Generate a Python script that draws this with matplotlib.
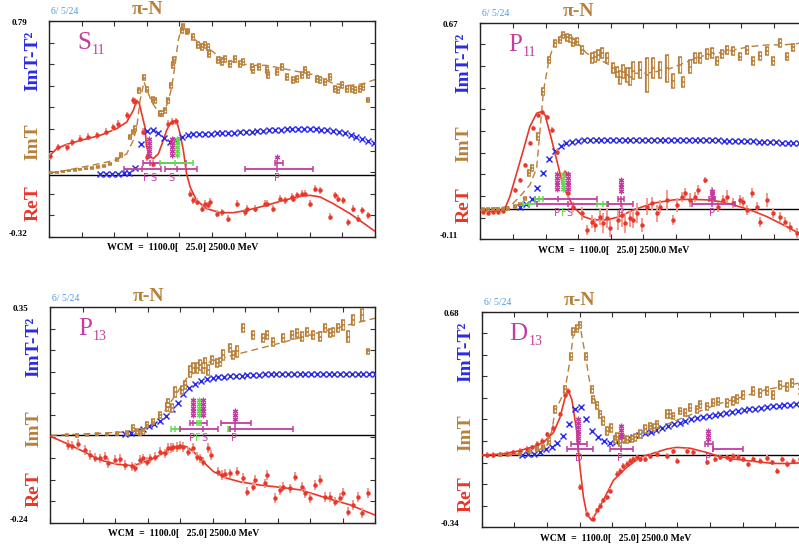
import numpy as np
import matplotlib
matplotlib.use("Agg")
import matplotlib.pyplot as plt

plt.rcParams['font.family'] = ['Liberation Serif', 'DejaVu Serif']

# ------------------------------------------------------------------ data
W_MIN, W_MAX, W_STEP = 1100.0, 2500.0, 25.0
DATE = "6/ 5/24"
WCM_TEXT = "WCM  =  1100.0[   25.0] 2500.0 MeV"

# ---- S11
S11_ylim = (-0.32, 0.79)
S11_fit_W = [1100, 1133, 1176, 1247, 1319, 1391, 1434, 1462, 1477, 1488, 1498, 1512, 1519, 1534, 1548, 1570,
             1591, 1605, 1620, 1634, 1648, 1663, 1677, 1691, 1706, 1734, 1777, 1834, 1892, 1949, 2035, 2106,
             2178, 2221, 2264, 2321, 2393, 2464, 2500]
S11_re_fit = [0.095, 0.134, 0.156, 0.180, 0.202, 0.237, 0.271, 0.331, 0.382, 0.365, 0.314, 0.245, 0.143, 0.091,
              0.083, 0.108, 0.177, 0.228, 0.262, 0.276, 0.276, 0.211, 0.125, 0.005, -0.063, -0.132, -0.174,
              -0.195, -0.195, -0.183, -0.157, -0.132, -0.111, -0.106, -0.114, -0.149, -0.200, -0.260, -0.291]
S11_im_W = [1100, 1176, 1247, 1319, 1391, 1434, 1462, 1477, 1491, 1508, 1519, 1541, 1570, 1591, 1612, 1627,
            1641, 1655, 1670, 1680, 1691, 1720, 1777, 1834, 1892, 1963, 2035, 2106, 2178, 2249, 2321, 2393,
            2450, 2500]
S11_im_fit = [0.009, 0.023, 0.040, 0.057, 0.077, 0.108, 0.177, 0.245, 0.382, 0.477, 0.442, 0.374, 0.322, 0.322,
              0.374, 0.451, 0.562, 0.691, 0.759, 0.773, 0.733, 0.699, 0.656, 0.605, 0.579, 0.562, 0.562, 0.545,
              0.528, 0.511, 0.468, 0.459, 0.468, 0.489]
S11_imd_W = [1110, 1135, 1160, 1185, 1210, 1235, 1260, 1285, 1310, 1335, 1360, 1390, 1410, 1448, 1459, 1469,
             1488, 1508, 1519, 1545, 1555, 1577, 1587, 1598, 1612, 1622, 1634, 1638, 1670, 1677, 1691, 1698,
             1720, 1741, 1756, 1770, 1784, 1789, 1827, 1842, 1856, 1877, 1899, 1920, 1935, 1970, 1978, 2000,
             2035, 2042, 2078, 2099, 2121, 2149, 2164, 2185, 2199, 2214, 2249, 2264, 2285, 2307, 2328, 2343,
             2357, 2378, 2400, 2414, 2436, 2450, 2471]
S11_imd_v = [0.010, 0.012, 0.016, 0.020, 0.023, 0.027, 0.031, 0.036, 0.040, 0.046, 0.055, 0.080, 0.100, 0.194,
             0.220, 0.237,
             0.434, 0.499, 0.437, 0.386, 0.382, 0.314, 0.314, 0.331, 0.382, 0.459, 0.562, 0.588, 0.742, 0.763,
             0.733, 0.739, 0.708, 0.665, 0.656, 0.665, 0.656, 0.622, 0.588, 0.579, 0.596, 0.571, 0.596, 0.571,
             0.579, 0.554, 0.537, 0.554, 0.537, 0.511, 0.528, 0.554, 0.502, 0.485, 0.494, 0.511, 0.537, 0.511,
             0.494, 0.485, 0.477, 0.502, 0.442, 0.434, 0.459, 0.442, 0.442, 0.434, 0.442, 0.451, 0.382]
S11_imd_e = [0.003, 0.003, 0.003, 0.003, 0.003, 0.003, 0.004, 0.004, 0.004, 0.005, 0.005, 0.008, 0.010, 0.012,
             0.012, 0.012,
             0.012, 0.012, 0.012, 0.012, 0.012, 0.012, 0.012, 0.012, 0.012, 0.012, 0.015, 0.015, 0.012, 0.012,
             0.012, 0.012, 0.015, 0.015, 0.015, 0.015, 0.015, 0.015, 0.015, 0.015, 0.015, 0.015, 0.015, 0.015,
             0.015, 0.015, 0.015, 0.015, 0.015, 0.015, 0.015, 0.015, 0.015, 0.015, 0.015, 0.015, 0.015, 0.015,
             0.015, 0.015, 0.015, 0.015, 0.015, 0.015, 0.015, 0.015, 0.015, 0.015, 0.015, 0.015, 0.010]
S11_red_W = [1104, 1140, 1176, 1197, 1233, 1269, 1305, 1345, 1376, 1398, 1434, 1459, 1469, 1505, 1519, 1527,
             1548, 1612, 1627, 1645, 1705, 1720, 1734, 1756, 1770, 1784, 1791, 1820, 1842, 1870, 1906, 1942,
             1949, 1985, 2028, 2035, 2063, 2092, 2113, 2142, 2149, 2164, 2185, 2199, 2221, 2242, 2264, 2307,
             2328, 2343, 2364, 2385, 2407, 2428, 2443, 2471]
S11_red_v = [0.095, 0.142, 0.142, 0.168, 0.185, 0.194, 0.202, 0.220, 0.245, 0.262, 0.305, 0.382, 0.374, 0.220,
             0.091, 0.100, 0.057, 0.262, 0.271, 0.276, -0.097, -0.132, -0.140, -0.174, -0.149, -0.157, -0.140,
             -0.200, -0.192, -0.226, -0.149, -0.192, -0.174, -0.174, -0.149, -0.149, -0.174, -0.123, -0.132,
             -0.114, -0.123, -0.106, -0.097, -0.097, -0.149, -0.072, -0.080, -0.217, -0.106, -0.123, -0.132,
             -0.243, -0.174, -0.226, -0.183, -0.209]
S11_red_e = 0.018
S11_blue_W0 = 1320
S11_blue_v = [0.005, 0.005, 0.005, 0.006, 0.008, 0.010, 0.035, 0.156, 0.225, 0.228, 0.212, 0.188, 0.168, 0.177,
              0.194, 0.206, 0.208, 0.209, 0.210, 0.211, 0.212, 0.213, 0.214, 0.216, 0.218, 0.220, 0.222, 0.224,
              0.226, 0.228, 0.230, 0.232, 0.234, 0.236, 0.237, 0.237, 0.236, 0.234, 0.231, 0.228, 0.224, 0.219,
              0.212, 0.205, 0.196, 0.186, 0.175, 0.163]
S11_star_W = [1531, 1627, 1650, 2081]
S11_star_n = [5, 5, 5, 1]
S11_star_top = [0.182, 0.182, 0.182, 0.091]
S11_star_col = ['m', 'm', 'g', 'm']
S11_bar_lo = [1505, 1577, 1420, 1600, 2071, 1942]
S11_bar_hi = [1690, 1718, 1580, 1736, 2106, 2235]
S11_bar_c = [1534, 1640, 1500, 1650, 2081, 2081]
S11_bar_v = [0.060, 0.060, 0.028, 0.028, 0.060, 0.028]
S11_bar_col = ['m', 'g', 'm', 'm', 'm', 'm']
S11_lab_W = [1516, 1547, 1627, 1654, 2081]
S11_lab_t = ['F', 'S', 'S', "'", 'P']
S11_lab_col = ['m', 'm', 'm', 'g', 'm']
S11_lab_v = -0.018

# ---- P11
P11_ylim = (-0.11, 0.67)
P11_fit_W = [1100, 1142, 1185, 1206, 1227, 1256, 1285, 1313, 1342, 1363, 1378, 1399, 1428, 1456, 1499, 1542,
             1585, 1643, 1700, 1757, 1843, 1929, 2000, 2072, 2129, 2187, 2258, 2330, 2401, 2468, 2500]
P11_re_fit = [-0.004, -0.010, -0.007, 0.001, 0.044, 0.128, 0.212, 0.296, 0.344, 0.350, 0.338, 0.272, 0.176,
              0.080, 0.008, -0.028, -0.040, -0.040, -0.028, -0.004, 0.020, 0.032, 0.034, 0.032, 0.026, 0.014,
              -0.004, -0.028, -0.058, -0.088, -0.100]
P11_im_W = [1100, 1227, 1270, 1313, 1342, 1371, 1395, 1413, 1428, 1456, 1485, 1513, 1556, 1599, 1642, 1685,
            1757, 1814, 1900, 1972, 2043, 2115, 2187, 2258, 2330, 2401, 2500]
P11_im_fit = [-0.002, 0.008, 0.044, 0.086, 0.146, 0.422, 0.536, 0.584, 0.602, 0.632, 0.626, 0.602, 0.560, 0.542,
              0.524, 0.500, 0.488, 0.488, 0.500, 0.524, 0.548, 0.560, 0.572, 0.584, 0.590, 0.590, 0.598]
P11_imd_W = [1113, 1134, 1156, 1177, 1199, 1220, 1249, 1270, 1292, 1309, 1320, 1349, 1371, 1395, 1421, 1442,
             1456, 1471, 1485, 1499, 1514, 1535, 1578, 1592, 1607, 1621, 1643, 1671, 1685, 1700, 1714, 1728,
             1743, 1757, 1786, 1814, 1843, 1872, 1900, 1929, 1957, 1972, 2000, 2022, 2043, 2072, 2093, 2115,
             2136, 2158, 2187, 2215, 2244, 2272, 2301, 2330, 2358, 2387, 2416, 2444]
P11_imd_v = [-0.002, -0.002, -0.002, -0.002, -0.001, 0.000, 0.008, 0.017, 0.038, 0.128, 0.146,
             0.260, 0.422, 0.536, 0.596, 0.608, 0.626, 0.617, 0.614, 0.598, 0.602, 0.572, 0.542, 0.548, 0.554,
             0.560, 0.542, 0.506, 0.494, 0.473, 0.494, 0.482, 0.476, 0.497, 0.500, 0.482, 0.506, 0.500, 0.506,
             0.460, 0.518, 0.458, 0.512, 0.542, 0.542, 0.557, 0.562, 0.533, 0.557, 0.572, 0.569, 0.548, 0.572,
             0.533, 0.550, 0.569, 0.533, 0.596, 0.548, 0.581]
P11_imd_e = [0.004, 0.004, 0.004, 0.004, 0.004, 0.004, 0.004, 0.005, 0.006, 0.010, 0.010,
             0.012, 0.012, 0.012, 0.012, 0.012, 0.012, 0.012, 0.012, 0.012, 0.012, 0.014, 0.018, 0.018, 0.018,
             0.018, 0.018, 0.018, 0.018, 0.024, 0.024, 0.024, 0.030, 0.030, 0.030, 0.060, 0.036, 0.030, 0.048,
             0.024, 0.030, 0.018, 0.024, 0.018, 0.018, 0.018, 0.018, 0.014, 0.014, 0.014, 0.014, 0.014, 0.014,
             0.014, 0.014, 0.014, 0.014, 0.014, 0.014, 0.014]
P11_red_W = [1113, 1134, 1156, 1177, 1199, 1249, 1270, 1292, 1313, 1328, 1349, 1363, 1385, 1406, 1428, 1464,
             1478, 1499, 1535, 1557, 1578, 1592, 1614, 1628, 1643, 1657, 1683, 1693, 1707, 1721, 1743, 1757,
             1771, 1793, 1814, 1836, 1857, 1872, 1900, 1929, 1943, 1965, 1979, 2000, 2022, 2036, 2065, 2093,
             2101, 2122, 2144, 2158, 2187, 2215, 2229, 2244, 2265, 2287, 2301, 2330, 2358, 2387, 2408, 2430,
             2458]
P11_red_v = [-0.010, -0.014, -0.013, -0.013, -0.007, 0.068, 0.104, 0.158, 0.236, 0.290, 0.338, 0.350, 0.332,
             0.284, 0.206, 0.128, 0.056, 0.008, -0.016, -0.076, -0.046, -0.058, -0.028, -0.052, -0.034, -0.070,
             -0.130, -0.040, -0.022, -0.052, -0.034, -0.040, -0.016, -0.058, 0.008, 0.020, -0.016, 0.008, 0.032,
             -0.040, 0.014, 0.044, 0.056, 0.032, 0.044, 0.068, 0.104, 0.062, 0.038, 0.008, 0.032, 0.044, 0.020,
             0.032, 0.026, -0.004, 0.056, 0.008, -0.046, 0.032, -0.016, -0.028, -0.046, -0.064, -0.088]
P11_red_e = [0.005, 0.005, 0.005, 0.005, 0.005, 0.007, 0.007, 0.007, 0.007, 0.007, 0.007, 0.007, 0.007, 0.010,
             0.010, 0.012, 0.018, 0.018, 0.024, 0.018, 0.024, 0.024, 0.030, 0.036, 0.036, 0.030, 0.018, 0.036,
             0.042, 0.036, 0.030, 0.030, 0.036, 0.024, 0.030, 0.024, 0.030, 0.024, 0.036, 0.018, 0.024, 0.018,
             0.018, 0.024, 0.018, 0.018, 0.012, 0.018, 0.018, 0.018, 0.018, 0.024, 0.018, 0.018, 0.018, 0.018,
             0.018, 0.018, 0.018, 0.024, 0.018, 0.018, 0.018, 0.018, 0.018]
P11_blue_W0 = 1270
P11_blue_v = [0.005, 0.017, 0.034, 0.074, 0.130, 0.178, 0.209, 0.227, 0.238, 0.242, 0.245, 0.247,
              0.248, 0.248, 0.248, 0.248, 0.248, 0.248, 0.248, 0.248, 0.248, 0.248, 0.248, 0.248, 0.248, 0.248,
              0.248, 0.248, 0.248, 0.248,
              0.247, 0.247, 0.247, 0.246, 0.246, 0.245, 0.245, 0.244, 0.244, 0.243, 0.243, 0.242, 0.241, 0.240,
              0.239, 0.238, 0.237, 0.236, 0.235, 0.234]
P11_star_W = [1429, 1455, 1476, 1704, 2093]
P11_star_n = [5, 5, 5, 4, 2]
P11_star_top = [0.125, 0.125, 0.125, 0.104, 0.065]
P11_star_col = ['m', 'g', 'm', 'm', 'm']
P11_bar_lo = [1335, 1335, 1285, 1342, 1600, 1650, 1693, 2008, 2083]
P11_bar_hi = [1600, 1371, 1342, 1643, 1650, 1757, 1717, 2194, 2108]
P11_bar_c = [1435, 1350, 1310, 1476, 1625, 1704, 1704, 2093, 2093]
P11_bar_v = [0.034, 0.034, 0.017, 0.017, 0.017, 0.017, 0.034, 0.017, 0.034]
P11_bar_col = ['m', 'g', 'g', 'm', 'g', 'm', 'm', 'm', 'm']
P11_lab_W = [1430, 1457, 1484, 1704, 2093]
P11_lab_t = ['P', 'F', 'S', 'P', 'P']
P11_lab_col = ['m', 'g', 'm', 'm', 'm']
P11_lab_v = -0.016

# ---- P13
P13_ylim = (-0.24, 0.35)
P13_fit_W = [1100, 1172, 1244, 1315, 1387, 1459, 1531, 1574, 1617, 1660, 1689, 1717, 1760, 1804, 1861, 1918,
             2005, 2105, 2177, 2249, 2320, 2392, 2464, 2500]
P13_re_fit = [-0.003, -0.023, -0.045, -0.068, -0.080, -0.084, -0.068, -0.055, -0.036, -0.029, -0.032, -0.045,
              -0.073, -0.100, -0.118, -0.128, -0.137, -0.144, -0.150, -0.164, -0.178, -0.191, -0.210, -0.219]
P13_im_W = [1100, 1315, 1459, 1516, 1559, 1603, 1631, 1660, 1689, 1732, 1775, 1832, 1890, 1976, 2062, 2148,
            2249, 2320, 2392, 2500]
P13_im_fit = [-0.001, 0.005, 0.010, 0.019, 0.037, 0.073, 0.101, 0.128, 0.156, 0.178, 0.197, 0.210, 0.219, 0.233,
              0.247, 0.262, 0.279, 0.291, 0.303, 0.320]
P13_imd_W = [1172, 1215, 1258, 1301, 1344, 1387, 1430, 1459, 1473, 1488, 1502, 1516, 1545, 1574, 1603, 1610,
             1624, 1638, 1667, 1682, 1703, 1717, 1732, 1746, 1761, 1768, 1782, 1796, 1818, 1832, 1847, 1875,
             1890, 1904, 1933, 1976, 2019, 2033, 2062, 2105, 2141, 2163, 2184, 2206, 2234, 2263, 2285, 2306,
             2320, 2342, 2364, 2385, 2407, 2443, 2471]
P13_imd_v = [0.000, -0.001, 0.001, 0.002, 0.003, 0.004, 0.005, 0.019, 0.010, 0.005, 0.010, 0.028, 0.037, 0.055,
             0.078, 0.087, 0.073, 0.119, 0.124, 0.137, 0.174, 0.183, 0.183, 0.192, 0.183, 0.197, 0.178, 0.206,
             0.197, 0.201, 0.219, 0.238, 0.219, 0.229, 0.292, 0.274, 0.265, 0.274, 0.256, 0.265, 0.274, 0.279,
             0.270, 0.283, 0.274, 0.270, 0.292, 0.279, 0.283, 0.292, 0.302, 0.270, 0.315, 0.329, 0.229]
P13_imd_e = [0.003, 0.003, 0.003, 0.003, 0.003, 0.004, 0.005, 0.009, 0.007, 0.005, 0.007, 0.007, 0.007, 0.009,
             0.011, 0.011, 0.011, 0.014, 0.011, 0.011, 0.014, 0.014, 0.014, 0.014, 0.014, 0.014, 0.014, 0.011,
             0.011, 0.011, 0.014, 0.011, 0.011, 0.014, 0.011, 0.011, 0.011, 0.011, 0.011, 0.011, 0.011, 0.011,
             0.011, 0.011, 0.011, 0.011, 0.011, 0.011, 0.011, 0.011, 0.014, 0.014, 0.014, 0.016, 0.007]
P13_red_W = [1179, 1193, 1222, 1251, 1272, 1294, 1315, 1337, 1351, 1380, 1402, 1423, 1452, 1466, 1488, 1499,
             1516, 1531, 1552, 1574, 1595, 1610, 1620, 1631, 1646, 1660, 1674, 1696, 1715, 1732, 1746, 1761,
             1782, 1792, 1825, 1839, 1854, 1875, 1904, 1933, 1947, 1976, 1983, 2026, 2033, 2069, 2091, 2105,
             2134, 2155, 2184, 2198, 2220, 2242, 2263, 2285, 2306, 2328, 2349, 2364, 2385, 2407, 2428, 2443,
             2471]
P13_red_v = [-0.027, -0.029, -0.025, -0.041, -0.054, -0.062, -0.064, -0.059, -0.077, -0.068, -0.066, -0.082,
             -0.086, -0.089, -0.068, -0.064, -0.073, -0.064, -0.059, -0.045, -0.050, -0.036, -0.036, -0.034,
             -0.032, -0.029, -0.032, -0.045, -0.036, -0.059, -0.064, -0.073, -0.036, -0.054, -0.100, -0.109,
             -0.107, -0.105, -0.100, -0.118, -0.155, -0.141, -0.123, -0.132, -0.109, -0.173, -0.150, -0.141,
             -0.146, -0.114, -0.141, -0.159, -0.173, -0.137, -0.123, -0.169, -0.169, -0.182, -0.173, -0.159,
             -0.210, -0.191, -0.169, -0.214, -0.159]
P13_red_e = 0.013
P13_blue_W0 = 1425
P13_blue_v = [0.003, 0.007, 0.011, 0.016, 0.024, 0.030, 0.038, 0.053, 0.072, 0.089, 0.112, 0.128, 0.141, 0.148,
              0.153, 0.156, 0.158, 0.160, 0.161, 0.162, 0.163, 0.164, 0.165, 0.165, 0.166, 0.166, 0.167, 0.167,
              0.168, 0.168, 0.168, 0.168, 0.168, 0.168, 0.168, 0.168, 0.168, 0.168, 0.168, 0.168, 0.168, 0.167,
              0.167, 0.167]
P13_star_W = [1715, 1743, 1761, 1897]
P13_star_n = [5, 5, 5, 3]
P13_star_top = [0.096, 0.096, 0.096, 0.066]
P13_star_col = ['m', 'g', 'm', 'm']
P13_bar_lo = [1703, 1735, 1835, 1620, 1660, 1868, 1875]
P13_bar_hi = [1775, 1750, 1964, 1660, 1825, 1875, 2148]
P13_bar_c = [1715, 1743, 1897, 1640, 1761, 1870, 1897]
P13_bar_v = [0.034, 0.034, 0.034, 0.017, 0.017, 0.017, 0.017]
P13_bar_col = ['m', 'g', 'm', 'g', 'm', 'g', 'm']
P13_lab_W = [1711, 1738, 1765, 1894]
P13_lab_t = ['P', 'F', 'S', 'P']
P13_lab_col = ['m', 'g', 'm', 'm']
P13_lab_v = -0.009

# ---- D13
D13_ylim = (-0.34, 0.68)
D13_fit_W = [1100, 1179, 1250, 1322, 1365, 1408, 1436, 1458, 1472, 1487, 1508, 1522, 1537, 1551, 1572, 1594,
             1622, 1665, 1723, 1780, 1823, 1894, 1937, 1995, 2066, 2124, 2181, 2267, 2353, 2424, 2500]
D13_re_fit = [0.002, 0.006, 0.019, 0.041, 0.061, 0.108, 0.179, 0.273, 0.304, 0.265, 0.116, -0.056, -0.197,
              -0.276, -0.307, -0.268, -0.213, -0.119, -0.056, -0.009, 0.006, 0.030, 0.038, 0.034, 0.014, -0.006,
              -0.017, -0.028, -0.038, -0.038, -0.033]
D13_im_W = [1100, 1250, 1322, 1379, 1401, 1415, 1436, 1458, 1482, 1494, 1508, 1522, 1534, 1547, 1558, 1572,
            1594, 1622, 1651, 1680, 1723, 1780, 1837, 1894, 1966, 2038, 2109, 2181, 2252, 2324, 2396, 2500]
D13_im_fit = [0.002, 0.006, 0.014, 0.045, 0.116, 0.210, 0.257, 0.312, 0.468, 0.578, 0.602, 0.617, 0.539, 0.468,
              0.382, 0.304, 0.241, 0.163, 0.116, 0.085, 0.069, 0.085, 0.116, 0.147, 0.179, 0.210, 0.241, 0.265,
              0.288, 0.312, 0.327, 0.351]
D13_imd_W = [1179, 1222, 1265, 1308, 1336, 1365, 1391, 1415, 1458, 1482, 1494, 1508, 1522, 1547, 1572, 1580,
             1594, 1608, 1622, 1640, 1654, 1673, 1683, 1694, 1708, 1723, 1744, 1758, 1780, 1801, 1823, 1840,
             1852, 1894, 1909, 1923, 1952, 1973, 1995, 2023, 2038, 2066, 2095, 2116, 2152, 2181, 2195, 2224,
             2267, 2295, 2324, 2353, 2381, 2410, 2431, 2467, 2496]
D13_imd_v = [0.002, 0.003, 0.006, 0.019, 0.030, 0.038, 0.069, 0.218, 0.312, 0.468, 0.586, 0.599, 0.617, 0.468,
             0.312, 0.265, 0.238, 0.194, 0.163, 0.116, 0.128, 0.077, 0.088, 0.061, 0.081, 0.075, 0.078, 0.085,
             0.103, 0.124, 0.139, 0.132, 0.147, 0.197, 0.194, 0.186, 0.210, 0.202, 0.226, 0.218, 0.241, 0.233,
             0.249, 0.254, 0.249, 0.257, 0.269, 0.288, 0.304, 0.296, 0.307, 0.288, 0.335, 0.323, 0.343, 0.312,
             0.351]
D13_imd_e = [0.003, 0.003, 0.005, 0.006, 0.008, 0.009, 0.013, 0.016, 0.016, 0.016, 0.016, 0.016, 0.016, 0.016,
             0.016, 0.016, 0.016, 0.016, 0.019, 0.019, 0.019, 0.016, 0.016, 0.016, 0.016, 0.016, 0.016, 0.016,
             0.019, 0.019, 0.016, 0.016, 0.016, 0.019, 0.019, 0.016, 0.016, 0.016, 0.016, 0.016, 0.016, 0.016,
             0.016, 0.016, 0.019, 0.019, 0.019, 0.019, 0.019, 0.019, 0.019, 0.019, 0.019, 0.019, 0.019, 0.019,
             0.019]
D13_red_W = [1121, 1150, 1179, 1207, 1236, 1265, 1293, 1315, 1336, 1358, 1379, 1408, 1436, 1458, 1472, 1522,
             1551, 1580, 1594, 1608, 1622, 1637, 1651, 1680, 1694, 1708, 1723, 1737, 1751, 1766, 1780, 1801,
             1823, 1852, 1894, 1923, 1937, 1980, 2009, 2066, 2102, 2124, 2152, 2166, 2181, 2202, 2224, 2245,
             2267, 2295, 2324, 2345, 2367, 2388, 2410, 2438, 2467]
D13_red_v = [0.002, 0.003, 0.005, 0.009, 0.014, 0.022, 0.030, 0.038, 0.053, 0.069, 0.100, 0.132, 0.194, 0.288,
             0.304, -0.150, -0.276, -0.299, -0.260, -0.237, -0.213, -0.198, -0.166, -0.088, -0.072, -0.049,
             -0.041, -0.025, -0.017, -0.009, -0.017, -0.017, -0.002, 0.006, -0.002, 0.022, -0.025, 0.022, 0.014,
             -0.033, -0.017, -0.009, -0.009, -0.017, -0.002, -0.006, -0.017, -0.041, -0.017, -0.025, -0.013,
             -0.033, -0.072, -0.017, -0.041, -0.025, -0.017]
D13_red_e = 0.013
D13_blue_W0 = 1275
D13_blue_v = [0.002, 0.006, 0.009, 0.017, 0.030, 0.038, 0.061, 0.092, 0.147, 0.218, 0.229, 0.171, 0.116, 0.085,
              0.069, 0.061, 0.064, 0.072, 0.077, 0.085, 0.096, 0.105, 0.113, 0.121, 0.128, 0.139, 0.147, 0.155,
              0.163, 0.171, 0.179, 0.182, 0.186, 0.191, 0.197, 0.202, 0.207, 0.210, 0.213, 0.218, 0.221, 0.226,
              0.229, 0.232, 0.233, 0.237, 0.238, 0.241, 0.244, 0.246]
D13_star_W = [1515, 1698, 2073]
D13_star_n = [7, 4, 3]
D13_star_top = [0.171, 0.139, 0.116]
D13_star_col = ['m', 'm', 'm']
D13_bar_lo = [1482, 1465, 1651, 2059, 2095]
D13_bar_hi = [1554, 1577, 1751, 2095, 2224]
D13_bar_c = [1515, 1515, 1698, 2073, 2095]
D13_bar_v = [0.053, 0.030, 0.030, 0.053, 0.030]
D13_bar_col = ['m', 'm', 'm', 'm', 'm']
D13_lab_W = [1515, 1694, 2073]
D13_lab_t = ['D', 'P', 'P']
D13_lab_col = ['m', 'm', 'm']
D13_lab_v = -0.013

# ------------------------------------------------------------------ style
FW, FH = 799, 550
BROWN = '#b8803a'
BLUE = '#2b2be6'
RED = '#e8382a'
RED_L = '#f29a92'
MAG = '#c23d9f'
GRN = '#5fdc50'
DATE_C = '#4d9be6'
CMAP = {'m': MAG, 'g': GRN}

panels = [
    dict(name=('S', '11'), px=(49, 21, 326, 216), ylim=S11_ylim,
         fitW=S11_fit_W, re=S11_re_fit, imW=S11_im_W, im=S11_im_fit,
         imdW=S11_imd_W, imd=S11_imd_v, imde=S11_imd_e,
         redW=S11_red_W, red=S11_red_v, rede=S11_red_e, bW0=S11_blue_W0, blue=S11_blue_v,
         sW=S11_star_W, sn=S11_star_n, stop=S11_star_top, scol=S11_star_col,
         blo=S11_bar_lo, bhi=S11_bar_hi, bc=S11_bar_c, bv=S11_bar_v, bcol=S11_bar_col,
         lW=S11_lab_W, lt=S11_lab_t, lcol=S11_lab_col, lv=S11_lab_v),
    dict(name=('P', '11'), px=(480.3, 22.7, 326, 216.6), ylim=P11_ylim,
         fitW=P11_fit_W, re=P11_re_fit, imW=P11_im_W, im=P11_im_fit,
         imdW=P11_imd_W, imd=P11_imd_v, imde=P11_imd_e,
         redW=P11_red_W, red=P11_red_v, rede=P11_red_e, bW0=P11_blue_W0, blue=P11_blue_v,
         sW=P11_star_W, sn=P11_star_n, stop=P11_star_top, scol=P11_star_col,
         blo=P11_bar_lo, bhi=P11_bar_hi, bc=P11_bar_c, bv=P11_bar_v, bcol=P11_bar_col,
         lW=P11_lab_W, lt=P11_lab_t, lcol=P11_lab_col, lv=P11_lab_v),
    dict(name=('P', '13'), px=(50, 307.3, 325, 215.4), ylim=P13_ylim,
         fitW=P13_fit_W, re=P13_re_fit, imW=P13_im_W, im=P13_im_fit,
         imdW=P13_imd_W, imd=P13_imd_v, imde=P13_imd_e,
         redW=P13_red_W, red=P13_red_v, rede=P13_red_e, bW0=P13_blue_W0, blue=P13_blue_v,
         sW=P13_star_W, sn=P13_star_n, stop=P13_star_top, scol=P13_star_col,
         blo=P13_bar_lo, bhi=P13_bar_hi, bc=P13_bar_c, bv=P13_bar_v, bcol=P13_bar_col,
         lW=P13_lab_W, lt=P13_lab_t, lcol=P13_lab_col, lv=P13_lab_v),
    dict(name=('D', '13'), px=(481.7, 311.7, 326, 215.6), ylim=D13_ylim,
         fitW=D13_fit_W, re=D13_re_fit, imW=D13_im_W, im=D13_im_fit,
         imdW=D13_imd_W, imd=D13_imd_v, imde=D13_imd_e,
         redW=D13_red_W, red=D13_red_v, rede=D13_red_e, bW0=D13_blue_W0, blue=D13_blue_v,
         sW=D13_star_W, sn=D13_star_n, stop=D13_star_top, scol=D13_star_col,
         blo=D13_bar_lo, bhi=D13_bar_hi, bc=D13_bar_c, bv=D13_bar_v, bcol=D13_bar_col,
         lW=D13_lab_W, lt=D13_lab_t, lcol=D13_lab_col, lv=D13_lab_v),
]

fig = plt.figure(figsize=(FW / 100, FH / 100), dpi=100)
fig.patch.set_facecolor('white')


def ftxt(x, y, s, **kw):
    return fig.text(x / FW, 1 - y / FH, s, **kw)


name_texts = []
for P in panels:
    l, t, w, h = P['px']
    ax = fig.add_axes([l / FW, 1 - (t + h) / FH, w / FW, h / FH])
    ymin, ymax = P['ylim']
    ax.set_xlim(W_MIN, W_MAX)
    ax.set_ylim(ymin, ymax)
    ax.set_xticks(np.linspace(W_MIN, W_MAX, 11))
    ax.set_yticks(np.linspace(ymin, ymax, 11))
    ax.set_xticklabels([])
    ax.set_yticklabels([])
    ax.tick_params(direction='in', length=3.5, width=0.8, top=True, right=True, color='#333333')
    for s in ax.spines.values():
        s.set_linewidth(1.0)
        s.set_color('#222222')
    ax.axhline(0, color='black', lw=1.0, zorder=1)

    # fits
    ax.plot(P['imW'], P['im'], color=BROWN, lw=1.0, dashes=(5, 3), zorder=2)
    ax.plot(P['fitW'], P['re'], color=RED, lw=1.2, zorder=3)
    # ImT - T^2
    bW = P['bW0'] + W_STEP * np.arange(len(P['blue']))
    ax.plot(bW, P['blue'], ls='none', marker='x', ms=3.8, mew=1.05, color=BLUE, zorder=3)
    # ImT data: hollow hour-glass boxes
    ax.errorbar(P['imdW'], P['imd'], yerr=P['imde'], fmt='none', ecolor=BROWN,
                elinewidth=3.0, capsize=0, zorder=4)
    ax.errorbar(P['imdW'], P['imd'], yerr=P['imde'], fmt='none', ecolor='white',
                elinewidth=1.0, capsize=0, zorder=4.1)
    ax.errorbar(P['imdW'], P['imd'], yerr=P['imde'], fmt='none', ecolor=BROWN,
                elinewidth=0, capsize=1.7, capthick=1.1, zorder=4.2)
    ax.plot(P['imdW'], P['imd'], ls='none', marker='_', ms=2.5, mew=1.2, color=BROWN, zorder=4.3)
    # ReT data
    ax.errorbar(P['redW'], P['red'], yerr=P['rede'], fmt='o', ms=2.2, mfc=RED, mec=RED,
                ecolor=RED_L, elinewidth=1.4, capsize=0, zorder=4)

    # resonance markers
    dy = 3.8 * (ymax - ymin) / h
    for W0, n, top, c in zip(P['sW'], P['sn'], P['stop'], P['scol']):
        ys = [top - k * dy for k in range(n)]
        ax.plot([W0] * n, ys, ls='none', marker=(6, 2, 0), ms=4.0, mew=0.9, color=CMAP[c], zorder=5)
    for lo, hi, c0, v, c in zip(P['blo'], P['bhi'], P['bc'], P['bv'], P['bcol']):
        ax.hlines(v, lo, hi, color=CMAP[c], lw=1.3, zorder=5)
        ax.plot([lo, hi, c0], [v, v, v], ls='none', marker='|', ms=5, mew=1.1, color=CMAP[c], zorder=5)
    for W0, s, c in zip(P['lW'], P['lt'], P['lcol']):
        ax.text(W0, P['lv'], s, color=CMAP[c], fontsize=7, ha='center', va='center',
                family=['DejaVu Sans'], zorder=6)

    # surrounding texts
    ftxt(l + 2, t - 9, DATE, fontsize=7, color=DATE_C, ha='left', va='center')
    ftxt(l + 98, t - 11, 'π-N', fontsize=14, color=BROWN, ha='center', va='center', fontweight='bold')
    ftxt(l - 16, t + 40, 'ImT-T²', fontsize=14, color=BLUE, ha='center', va='center',
         rotation=90, fontweight='bold')
    ftxt(l - 16, t + 121, 'ImT', fontsize=14, color=BROWN, ha='center', va='center',
         rotation=90, fontweight='bold')
    ftxt(l - 16, t + 182, 'ReT', fontsize=14, color=RED, ha='center', va='center',
         rotation=90, fontweight='bold')
    ftxt(l - 22, t + 2, f'{ymax:.2f}', fontsize=6.5, ha='right', va='center', fontweight='bold')
    ftxt(l - 22, t + h - 3, f'{ymin:.2f}', fontsize=6.5, ha='right', va='center', fontweight='bold')
    ftxt(l + 58, t + h + 11, WCM_TEXT, fontsize=7, ha='left', va='center', fontweight='bold')
    tm = ftxt(l + 28, t + 28, P['name'][0], fontsize=18, color=MAG, ha='left', va='baseline')
    name_texts.append((tm, P['name'][1], t))

fig.canvas.draw()
r = fig.canvas.get_renderer()
for tm, sub, t in name_texts:
    bb = tm.get_window_extent(r)
    fig.text((bb.x1 + 0.5) / FW, 1 - (t + 33) / FH, sub, fontsize=10, color=MAG, ha='left', va='baseline')

fig.savefig('out.png', dpi=100)
